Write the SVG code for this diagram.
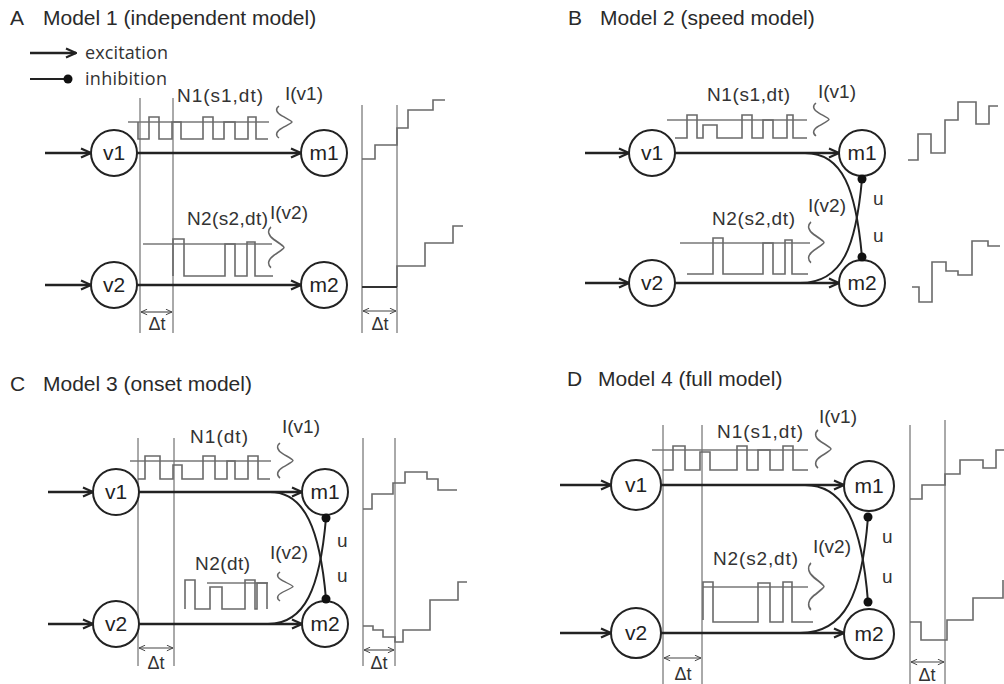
<svg xmlns="http://www.w3.org/2000/svg" xmlns:xlink="http://www.w3.org/1999/xlink" width="1004" height="684" viewBox="0 0 1004 684">
<style>
text{font-family:"Liberation Sans",Arial,sans-serif;fill:#333}
.title{font-size:21px;fill:#2a2a2a}
.lab{font-size:19px}
.leg{font-family:"Open Sans","Liberation Sans",sans-serif;font-size:18px;fill:#333}
.nt{font-size:21px;text-anchor:middle;fill:#222}
.dtl{font-size:18px;text-anchor:middle}
.node{fill:#fff;stroke:#222;stroke-width:2}
.ex{fill:none;stroke:#222;stroke-width:2.5;marker-end:url(#ar)}
.inh{fill:none;stroke:#222;stroke-width:2}
.dot{fill:#111}
.guide{stroke:#555;stroke-width:1;fill:none}
.wave{fill:none;stroke:#6a6a6a;stroke-width:1.6}
.ref{fill:none;stroke:#777;stroke-width:1.3}
.dta{fill:none;stroke:#444;stroke-width:1.1;marker-start:url(#sa);marker-end:url(#sa)}
.brace{fill:none;stroke:#666;stroke-width:1.5}
</style>
<defs>
<marker id="ar" viewBox="0 0 12 12" refX="11" refY="6" markerWidth="12" markerHeight="12" markerUnits="userSpaceOnUse" orient="auto"><path d="M1,1.5 L11,6 L1,10.5" fill="none" stroke="#222" stroke-width="2.2"/></marker>
<marker id="sa" viewBox="0 0 8 8" refX="7.5" refY="4" markerWidth="7" markerHeight="7" markerUnits="userSpaceOnUse" orient="auto-start-reverse"><path d="M0.5,0.8 L7.5,4 L0.5,7.2" fill="none" stroke="#444" stroke-width="1.1"/></marker>
<path id="brace" d="M3,0 C-1,3 0,7 6,10.5 C12,14 16,16 16,17 C16,18 12,20 6,23.5 C0,27 -1,31 3,34"/>
</defs>
<rect width="1004" height="684" fill="#fff"/>

<!-- Titles -->
<text class="title" x="10" y="25">A</text><text class="title" x="43" y="25">Model 1 (independent model)</text>
<text class="title" x="568" y="25">B</text><text class="title" x="600" y="25">Model 2 (speed model)</text>
<text class="title" x="10" y="391">C</text><text class="title" x="43" y="391">Model 3 (onset model)</text>
<text class="title" x="567" y="386">D</text><text class="title" x="598" y="386">Model 4 (full model)</text>

<!-- Legend -->
<g id="legend">
<line class="ex" x1="30" y1="53" x2="76" y2="53"/>
<text class="leg" x="85" y="59" textLength="83">excitation</text>
<line class="inh" x1="30" y1="79" x2="66" y2="79"/>
<circle class="dot" cx="68" cy="79" r="4.5"/>
<text class="leg" x="85" y="85" textLength="82">inhibition</text>
</g>

<!-- Guides, signals -->
<g id="signals">
<!-- A -->
<line class="guide" x1="140" y1="98" x2="140" y2="333"/>
<line class="guide" x1="173" y1="98" x2="173" y2="333"/>
<line class="guide" x1="362" y1="105" x2="362" y2="333"/>
<line class="guide" x1="397" y1="105" x2="397" y2="333"/>
<path class="ref" d="M128,122 H269"/>
<path class="wave" d="M138,122 V139 H149 V117 H159 V139 H172 V122 H181 V139 H203 V117 H213 V139 H224 V122 H235 V139 H248 V117 H256 V139 H268"/>
<path class="ref" d="M143,244 H272"/>
<path class="wave" d="M173,276 V239 H184 V276 H225 V244 H235 V276 H247 V242 H255 V276 H273"/>
<path class="wave" d="M362,159 H375 V145 H397 V128 H408 V110 H433 V100 H445"/>
<path class="wave" d="M397,287 V266 H425 V243 H453 V226 H463"/>
<path d="M362,287 H397" stroke="#333" stroke-width="2" fill="none"/>
<!-- B -->
<path class="ref" d="M667,120 H807"/>
<path class="wave" d="M675,138 H687 V115 H697 V138 H703 V125 H717 V138 H742 V115 H752 V138 H763 V120 H773 V138 H787 V115 H793 V138 H807"/>
<path class="ref" d="M680,243 H810"/>
<path class="wave" d="M687,274 H713 V238 H723 V274 H763 V243 H773 V274 H785 V240 H792 V274 H808"/>
<path class="wave" d="M908,160 H918 V134 H931 V153 H945 V120 H958 V102 H976 V124 H989 V106 H998"/>
<path class="wave" d="M912,287 H919 V302 H932 V262 H946 V271 H958 V275 H972 V241 H988 V246 H1000"/>
<!-- C -->
<line class="guide" x1="138" y1="438" x2="138" y2="666"/>
<line class="guide" x1="174" y1="438" x2="174" y2="666"/>
<line class="guide" x1="363" y1="438" x2="363" y2="666"/>
<line class="guide" x1="395" y1="438" x2="395" y2="666"/>
<path class="ref" d="M130,461 H271"/>
<path class="wave" d="M138,479 H145 V456 H160 V479 H173 V465 H182 V479 H203 V456 H215 V479 H227 V461 H235 V479 H248 V456 H258 V479 H270"/>
<path class="ref" d="M207,583 H268"/>
<path class="wave" d="M185,609 V580 H195 V609 H210 V587 H222 V609 H245 V580 H255 V609 H257 V583 H267 V609"/>
<path class="wave" d="M363,509 H372 V494 H393 V483 H405 V472 H427 V479 H438 V490 H457"/>
<path class="wave" d="M363,626 H373 V630 H383 V637 H395 V642 H403 V630 H430 V600 H458 V582 H467"/>
<!-- D -->
<line class="guide" x1="663" y1="425" x2="663" y2="684"/>
<line class="guide" x1="702" y1="425" x2="702" y2="684"/>
<line class="guide" x1="910" y1="425" x2="910" y2="684"/>
<line class="guide" x1="945" y1="420" x2="945" y2="684"/>
<path class="ref" d="M652,450 H808"/>
<path class="wave" d="M663,470 H673 V446 H685 V470 H700 V452 H710 V470 H737 V446 H747 V470 H758 V450 H770 V470 H783 V446 H793 V470 H808"/>
<path class="ref" d="M703,587 H808"/>
<path class="wave" d="M703,620 V582 H713 V622 H758 V583 H770 V622 H783 V582 H792 V622 H813"/>
<path class="wave" d="M910,499 H922 V485 H945 V474 H960 V460 H983 V468 H996 V450 H1004"/>
<path class="wave" d="M910,622 H921 V640 H947 V620 H973 V598 H1003 V580"/>
</g>

<!-- Braces -->
<g id="braces">
<use xlink:href="#brace" href="#brace" class="brace" transform="translate(276,106) scale(1,0.94)"/>
<use xlink:href="#brace" href="#brace" class="brace" transform="translate(268,227) scale(1,1.2)"/>
<use xlink:href="#brace" href="#brace" class="brace" transform="translate(813,103) scale(1,0.97)"/>
<use xlink:href="#brace" href="#brace" class="brace" transform="translate(808,222) scale(1,1.2)"/>
<use xlink:href="#brace" href="#brace" class="brace" transform="translate(277,443) scale(1,1.03)"/>
<use xlink:href="#brace" href="#brace" class="brace" transform="translate(277,572) scale(1,0.85)"/>
<use xlink:href="#brace" href="#brace" class="brace" transform="translate(815,430) scale(1,1.12)"/>
<use xlink:href="#brace" href="#brace" class="brace" transform="translate(808,563) scale(1,1.38)"/>
</g>

<!-- Labels -->
<g id="labels">
<text class="lab" x="177" y="102" textLength="86">N1(s1,dt)</text>
<text class="lab" x="285" y="100">I(v1)</text>
<text class="lab" x="187" y="225" textLength="81">N2(s2,dt)</text>
<text class="lab" x="270" y="219">I(v2)</text>
<text class="lab" x="707" y="101" textLength="83">N1(s1,dt)</text>
<text class="lab" x="818" y="98">I(v1)</text>
<text class="lab" x="712" y="225" textLength="83">N2(s2,dt)</text>
<text class="lab" x="808" y="212">I(v2)</text>
<text class="lab" x="873" y="205">u</text>
<text class="lab" x="873" y="242">u</text>
<text class="lab" x="190" y="443" textLength="58">N1(dt)</text>
<text class="lab" x="282" y="433">I(v1)</text>
<text class="lab" x="195" y="570" textLength="55">N2(dt)</text>
<text class="lab" x="270" y="559">I(v2)</text>
<text class="lab" x="337" y="547">u</text>
<text class="lab" x="337" y="582">u</text>
<text class="lab" x="717" y="438" textLength="86">N1(s1,dt)</text>
<text class="lab" x="819" y="423">I(v1)</text>
<text class="lab" x="713" y="565" textLength="85">N2(s2,dt)</text>
<text class="lab" x="813" y="553">I(v2)</text>
<text class="lab" x="882" y="543">u</text>
<text class="lab" x="882" y="583">u</text>
<line class="dta" x1="141" y1="312" x2="172" y2="312"/><text class="dtl" x="157" y="330">Δt</text>
<line class="dta" x1="363" y1="311" x2="396" y2="311"/><text class="dtl" x="380" y="330">Δt</text>
<line class="dta" x1="139" y1="648" x2="173" y2="648"/><text class="dtl" x="156" y="669">Δt</text>
<line class="dta" x1="364" y1="650" x2="394" y2="650"/><text class="dtl" x="379" y="669">Δt</text>
<line class="dta" x1="664" y1="658" x2="701" y2="658"/><text class="dtl" x="683" y="680">Δt</text>
<line class="dta" x1="911" y1="662" x2="944" y2="662"/><text class="dtl" x="927" y="681">Δt</text>
</g>

<!-- Connectors -->
<g id="connectors">
<!-- A -->
<line class="ex" x1="45" y1="153" x2="91" y2="153"/>
<line class="ex" x1="45" y1="285" x2="91" y2="285"/>
<line class="ex" x1="137" y1="153" x2="301" y2="153"/>
<line class="ex" x1="137" y1="285" x2="301" y2="285"/>
<!-- B -->
<line class="ex" x1="585" y1="153" x2="629" y2="153"/>
<line class="ex" x1="585" y1="283" x2="629" y2="283"/>
<line class="ex" x1="675" y1="153" x2="839" y2="153"/>
<line class="ex" x1="675" y1="283" x2="839" y2="283"/>
<path class="inh" d="M805,153 C843,153 856,190 862,257"/>
<path class="inh" d="M800,283 C843,283 856,246 862,179"/>
<!-- C -->
<line class="ex" x1="48" y1="492" x2="93" y2="492"/>
<line class="ex" x1="48" y1="624" x2="93" y2="624"/>
<line class="ex" x1="139" y1="492" x2="302" y2="492"/>
<line class="ex" x1="139" y1="624" x2="302" y2="624"/>
<path class="inh" d="M270,492 C305,492 320,530 326,599"/>
<path class="inh" d="M268,624 C305,624 320,588 326,518"/>
<!-- D -->
<line class="ex" x1="560" y1="485" x2="611" y2="485"/>
<line class="ex" x1="560" y1="633" x2="611" y2="633"/>
<line class="ex" x1="661" y1="485" x2="844" y2="485"/>
<line class="ex" x1="661" y1="633" x2="844" y2="633"/>
<path class="inh" d="M805,485 C845,485 862,525 868,602"/>
<path class="inh" d="M800,633 C845,633 862,595 868,517"/>
</g>

<!-- Nodes -->
<g id="A-v1"><circle class="node" cx="114" cy="153" r="23"/><text class="nt" x="114" y="160">v1</text></g>
<g id="A-m1"><circle class="node" cx="324" cy="153" r="23"/><text class="nt" x="324" y="160">m1</text></g>
<g id="A-v2"><circle class="node" cx="114" cy="285" r="23"/><text class="nt" x="114" y="292">v2</text></g>
<g id="A-m2"><circle class="node" cx="324" cy="285" r="23"/><text class="nt" x="324" y="292">m2</text></g>

<g id="B-v1"><circle class="node" cx="652" cy="153" r="23"/><text class="nt" x="652" y="160">v1</text></g>
<g id="B-m1"><circle class="node" cx="862" cy="153" r="23"/><text class="nt" x="862" y="160">m1</text><circle class="dot" cx="862" cy="179" r="4.5"/></g>
<g id="B-v2"><circle class="node" cx="652" cy="283" r="23"/><text class="nt" x="652" y="290">v2</text></g>
<g id="B-m2"><circle class="node" cx="862" cy="283" r="23"/><text class="nt" x="862" y="290">m2</text><circle class="dot" cx="862" cy="257" r="4.5"/></g>

<g id="C-v1"><circle class="node" cx="116" cy="492" r="23"/><text class="nt" x="116" y="499">v1</text></g>
<g id="C-m1"><circle class="node" cx="325" cy="492" r="23"/><text class="nt" x="325" y="499">m1</text><circle class="dot" cx="326" cy="518" r="4.5"/></g>
<g id="C-v2"><circle class="node" cx="116" cy="624" r="23"/><text class="nt" x="116" y="631">v2</text></g>
<g id="C-m2"><circle class="node" cx="325" cy="624" r="23"/><text class="nt" x="325" y="631">m2</text><circle class="dot" cx="326" cy="599" r="4.5"/></g>

<g id="D-v1"><circle class="node" cx="636" cy="485" r="25"/><text class="nt" x="636" y="492">v1</text></g>
<g id="D-m1"><circle class="node" cx="869" cy="486" r="25"/><text class="nt" x="869" y="493">m1</text><circle class="dot" cx="868" cy="517" r="4.5"/></g>
<g id="D-v2"><circle class="node" cx="636" cy="633" r="25"/><text class="nt" x="636" y="640">v2</text></g>
<g id="D-m2"><circle class="node" cx="869" cy="634" r="25"/><text class="nt" x="869" y="641">m2</text><circle class="dot" cx="868" cy="602" r="4.5"/></g>
</svg>
